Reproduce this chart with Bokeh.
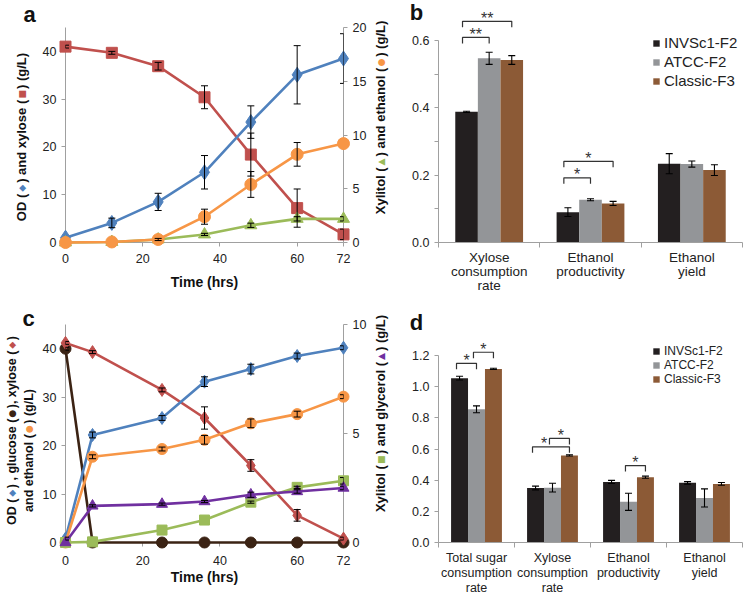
import math
from bokeh.plotting import figure
from bokeh.models import (Range1d, LinearAxis, FixedTicker, ColumnDataSource, Whisker,
                          TeeHead, Legend, LegendItem, NumeralTickFormatter)
from bokeh.layouts import row, column
from bokeh.embed import file_html
from bokeh.resources import INLINE
from bokeh.core.properties import value

# ---------------- data: panel a ----------------
a_time = [0, 12, 24, 36, 48, 60, 72]
a_od = [1.0, 4.1, 8.5, 14.7, 25.2, 35.1, 38.5]
a_od_err = [0.0, 1.0, 1.8, 3.5, 3.4, 6.1, 5.2]
a_xylose = [41.0, 39.7, 36.9, 30.4, 18.4, 7.2, 1.7]
a_xylose_err = [0.3, 0.3, 0.8, 2.4, 4.5, 4.0, 1.1]
a_ethanol = [0.0, 0.05, 0.28, 2.4, 5.4, 8.2, 9.2]
a_ethanol_err = [0.0, 0.0, 0.1, 0.7, 1.2, 1.1, 0.0]
a_xylitol = [0.0, 0.05, 0.28, 0.75, 1.6, 2.2, 2.2]
a_xylitol_err = [0.0, 0.0, 0.0, 0.1, 0.2, 0.2, 0.2]
a_left_ticks = [0, 10, 20, 30, 40]
a_right_ticks = [0, 5, 10, 15, 20]
time_ticks = [0, 20, 40, 60, 72]

# ---------------- data: panel c ----------------
c_time = [0, 7, 25, 36, 48, 60, 72]
c_od = [0.8, 22.2, 25.7, 33.2, 35.8, 38.5, 40.2]
c_od_err = [0.3, 0.6, 0.5, 1.0, 1.0, 0.6, 0.4]
c_glucose = [40.0, 0.0, 0.0, 0.0, 0.0, 0.0, 0.0]
c_glucose_err = [0.3, 0.0, 0.0, 0.0, 0.0, 0.0, 0.0]
c_xylose = [41.2, 39.3, 31.5, 25.7, 15.9, 5.6, 0.8]
c_xylose_err = [0.3, 0.3, 0.4, 2.3, 1.2, 1.2, 0.3]
c_ethanol = [0.0, 17.7, 19.3, 21.2, 24.6, 26.5, 30.1]
c_ethanol_err = [0.0, 0.4, 0.4, 0.9, 0.9, 0.6, 0.4]
c_xylitol = [0.0, 0.03, 0.57, 1.03, 1.85, 2.53, 2.83]
c_xylitol_err = [0.0, 0.0, 0.0, 0.0, 0.05, 0.05, 0.15]
c_glycerol = [0.0, 1.68, 1.76, 1.88, 2.19, 2.34, 2.50]
c_glycerol_err = [0.0, 0.05, 0.05, 0.05, 0.12, 0.08, 0.08]
c_right_ticks = [0, 5, 10]

# ---------------- data: panel b ----------------
strains = ["INVSc1-F2", "ATCC-F2", "Classic-F3"]
b_categories = ["Xylose\nconsumption\nrate", "Ethanol\nproductivity", "Ethanol\nyield"]
b_invsc1 = [0.388, 0.090, 0.234]
b_invsc1_err = [0.002, 0.013, 0.030]
b_atcc = [0.547, 0.127, 0.233]
b_atcc_err = [0.018, 0.003, 0.009]
b_classic = [0.542, 0.116, 0.215]
b_classic_err = [0.013, 0.006, 0.016]
b_ticks = [0.0, 0.2, 0.4, 0.6]
b_minor = [0.1, 0.3, 0.5]
b_sig_cat = [0, 0, 1, 1]
b_sig_from = [0, 0, 0, 0]
b_sig_to = [1, 2, 1, 2]
b_sig_y = [0.609, 0.657, 0.192, 0.241]
b_sig_text = ["**", "**", "*", "*"]

# ---------------- data: panel d ----------------
d_categories = ["Total sugar\nconsumption\nrate", "Xylose\nconsumption\nrate",
                "Ethanol\nproductivity", "Ethanol\nyield"]
d_invsc1 = [1.055, 0.350, 0.389, 0.383]
d_invsc1_err = [0.012, 0.012, 0.010, 0.008]
d_atcc = [0.855, 0.352, 0.261, 0.286]
d_atcc_err = [0.022, 0.028, 0.055, 0.058]
d_classic = [1.114, 0.559, 0.419, 0.376]
d_classic_err = [0.004, 0.004, 0.007, 0.009]
d_ticks = [0.0, 0.2, 0.4, 0.6, 0.8, 1.0, 1.2]
d_sig_cat = [0, 0, 1, 1, 2]
d_sig_from = [0, 1, 0, 1, 1]
d_sig_to = [1, 2, 2, 2, 2]
d_sig_y = [1.150, 1.221, 0.614, 0.668, 0.494]
d_sig_text = ["*", "*", "*", "*", "*"]

# ---------------- style ----------------
BLUE = "#4F81BD"
RED = "#C0504D"
GREEN = "#9BBB59"
ORANGE = "#F79646"
PURPLE = "#7030A0"
GLU = "#3B2314"
BAR_COLORS = ["#231F20", "#939598", "#8C5A36"]
AXIS_GREY = "#A0A0A0"
FONT = "Liberation Sans"
BW = 0.223
# horizontal nudges (category units) of the star marks, in bracket order
B_STAR_DX = [0.0, 0.0, 0.0, 0.0]
D_STAR_DX = [0.0, 0.0, -0.09, 0.02, 0.0]

# Arial/Liberation Sans Bold advance widths (1/1000 em)
AB = {' ': 278, '\u00a0': 278, '(': 333, ')': 333, ',': 278, '/': 278, 'D': 722, 'L': 611,
      'O': 778, 'X': 667, 'a': 556, 'c': 556, 'd': 611, 'e': 556, 'g': 611, 'h': 611,
      'i': 278, 'l': 278, 'n': 611, 'o': 611, 'r': 389, 's': 556, 't': 333, 'u': 611,
      'x': 556, 'y': 556}
GAP = "\u00a0" * 3

# frame geometry in page pixels (canvas origin = page origin)
ga = dict(fx0=65, fx1=343, fy0=27, fy1=242, x0=0, x1=72, y0=0, y1=45)
gb = dict(fx0=438, fx1=742, fy0=27, fy1=242, x0=0, x1=3, y0=0, y1=215 / 336.7)
gc = dict(fx0=65, fx1=343, fy0=324, fy1=542, x0=0, x1=72, y0=0, y1=45)
gd = dict(fx0=438, fx1=742, fy0=324, fy1=542, x0=0, x1=4, y0=0, y1=218 / 155.8)


def page_to_data(g, px, py):
    x = g['x0'] + (px - g['fx0']) * (g['x1'] - g['x0']) / (g['fx1'] - g['fx0'])
    y = g['y0'] + (g['fy1'] - py) * (g['y1'] - g['y0']) / (g['fy1'] - g['fy0'])
    return x, y


def px_per_y(g):
    return (g['fy1'] - g['fy0']) / (g['y1'] - g['y0'])


def text_width(s, size):
    return sum(AB.get(ch, 556) for ch in s) * size / 1000.0


def make_fig(g, ox, oy, width, height):
    p = figure(width=width, height=height, output_backend="svg", toolbar_location=None, tools="",
               x_range=Range1d(g['x0'], g['x1']), y_range=Range1d(g['y0'], g['y1']),
               min_border_left=g['fx0'] - ox, min_border_right=ox + width - g['fx1'],
               min_border_top=g['fy0'] - oy, min_border_bottom=oy + height - g['fy1'])
    p.outline_line_color = None
    p.xgrid.visible = False
    p.ygrid.visible = False
    p.background_fill_color = "white"
    p.border_fill_color = "white"
    return p


def style_axis(ax, size="12.5px"):
    ax.axis_line_color = AXIS_GREY
    ax.major_tick_line_color = AXIS_GREY
    ax.minor_tick_line_color = None
    ax.major_tick_in = 0
    ax.major_tick_out = 4
    ax.major_label_text_font = FONT
    ax.major_label_text_font_size = size
    ax.major_label_text_color = "#222222"


def free_text(p, g, px, py, txt, size, bold=False, color="#111111", angle=0.0,
              font=FONT, align="center"):
    x, y = page_to_data(g, px, py)
    p.text(x=[x], y=[y], text=[txt], angle=angle, text_align=align, text_baseline="middle",
           text_font=value(font), text_font_style="bold" if bold else "normal",
           text_font_size=f"{size}px", text_color=color, level="overlay")


def line_series(p, x, y, err, color, marker, size, rname=None):
    kw = {} if rname is None else {"y_range_name": rname}
    p.line(x, y, line_color=color, line_width=2.6, level="overlay", **kw)
    p.scatter(x, y, marker=marker, size=size, fill_color=color, line_color=color,
              level="overlay", **kw)
    xs = [xi for xi, e in zip(x, err) if e > 0]
    lo = [yi - e for yi, e in zip(y, err) if e > 0]
    hi = [yi + e for yi, e in zip(y, err) if e > 0]
    src = ColumnDataSource(dict(x=xs, lo=lo, hi=hi))
    w = Whisker(source=src, base="x", lower="lo", upper="hi", line_color="black",
                line_width=1, level="overlay",
                upper_head=TeeHead(size=7, line_color="black", line_width=1),
                lower_head=TeeHead(size=7, line_color="black", line_width=1), **kw)
    p.add_layout(w)


def rotated_title(p, g, cx, cy, parts, size=13.0, sym_size=9):
    main = "".join(part if isinstance(part, str) else GAP for part in parts)
    W = text_width(main, size)
    free_text(p, g, cx, cy, main, size, bold=True, angle=math.pi / 2)
    s = 0.0
    gw = text_width(GAP, size)
    for part in parts:
        if isinstance(part, str):
            s += text_width(part, size)
        else:
            py = cy + W / 2 - (s + gw / 2)
            free_text(p, g, cx, py, part[0], sym_size, color=part[1], angle=math.pi / 2,
                      font="DejaVu Sans")
            s += gw


def time_axis(p, standoff, label_standoff):
    ax = p.xaxis[0]
    style_axis(ax)
    ax.ticker = FixedTicker(ticks=time_ticks)
    ax.major_label_standoff = standoff
    ax.axis_label = "Time (hrs)"
    ax.axis_label_text_font = FONT
    ax.axis_label_text_font_style = "bold"
    ax.axis_label_text_font_size = "14px"
    ax.axis_label_text_color = "#111111"
    ax.axis_label_standoff = label_standoff


# ---------------- panel a ----------------
pa = make_fig(ga, 0, 0, 390, 295)
pa.extra_y_ranges = {"r": Range1d(0, 20)}
time_axis(pa, 7, 8)
style_axis(pa.yaxis[0])
pa.yaxis[0].ticker = FixedTicker(ticks=a_left_ticks)
ra = LinearAxis(y_range_name="r", ticker=FixedTicker(ticks=a_right_ticks))
style_axis(ra)
pa.add_layout(ra, "right")

line_series(pa, a_time, a_xylose, a_xylose_err, RED, "square", 11)
line_series(pa, a_time, a_od, a_od_err, BLUE, "diamond", 15)
line_series(pa, a_time, a_xylitol, a_xylitol_err, GREEN, "triangle", 12, "r")
line_series(pa, a_time, a_ethanol, a_ethanol_err, ORANGE, "circle", 12, "r")

free_text(pa, ga, 29, 14, "a", 22, bold=True)
rotated_title(pa, ga, 21, 136.5, ["OD (", ("\u25C6", BLUE), ") and xylose (", ("\u25A0", RED), ") (g/L)"])
rotated_title(pa, ga, 380, 117, ["Xylitol (", ("\u25B2", GREEN), ") and ethanol (", ("\u25CF", ORANGE), ") (g/L)"])

# ---------------- panel c ----------------
pc = make_fig(gc, 0, 295, 390, 300)
pc.extra_y_ranges = {"r": Range1d(0, 10)}
time_axis(pc, 9, 1)
style_axis(pc.yaxis[0])
pc.yaxis[0].ticker = FixedTicker(ticks=a_left_ticks)
rc = LinearAxis(y_range_name="r", ticker=FixedTicker(ticks=c_right_ticks))
style_axis(rc)
pc.add_layout(rc, "right")

line_series(pc, c_time, c_glucose, c_glucose_err, GLU, "circle", 11)
line_series(pc, c_time, c_xylose, c_xylose_err, RED, "diamond", 13)
line_series(pc, c_time, c_od, c_od_err, BLUE, "diamond", 13)
line_series(pc, c_time, c_ethanol, c_ethanol_err, ORANGE, "circle", 11)
line_series(pc, c_time, c_xylitol, c_xylitol_err, GREEN, "square", 10, "r")
line_series(pc, c_time, c_glycerol, c_glycerol_err, PURPLE, "triangle", 11, "r")

free_text(pc, gc, 28, 318, "c", 22, bold=True)
rotated_title(pc, gc, 11, 430, ["OD (", ("\u25C6", BLUE), ") , glucose (", ("\u25CF", GLU),
                                "), xylose (", ("\u25C6", RED), ")"], size=12.5)
rotated_title(pc, gc, 28, 450, ["and ethanol (", ("\u25CF", ORANGE), ") (g/L)"], size=12.5)
rotated_title(pc, gc, 380, 413, ["Xylitol (", ("\u25A0", GREEN), ") and glycerol (", ("\u25B2", PURPLE), ") (g/L)"])


# ---------------- bar panels ----------------
def bar_panel(p, g, cats, series, errs, ticks, minor, sig, star_dx, legend_loc, leg_size, leg_h,
              cat_size, cat_first, cat_pitch):
    ncat = len(cats)
    renderers = []
    for k in range(3):
        xs = [i + 0.5 + (k - 1) * BW for i in range(ncat)]
        r = p.vbar(x=xs, top=series[k], width=BW, bottom=0, fill_color=BAR_COLORS[k],
                   line_color=None)
        renderers.append(r)
        src = ColumnDataSource(dict(x=xs, lo=[v - e for v, e in zip(series[k], errs[k])],
                                    hi=[v + e for v, e in zip(series[k], errs[k])]))
        p.add_layout(Whisker(source=src, base="x", lower="lo", upper="hi", line_color="black",
                             line_width=1.1, level="overlay",
                             upper_head=TeeHead(size=7, line_color="black", line_width=1.1),
                             lower_head=TeeHead(size=7, line_color="black", line_width=1.1)))
    # x axis: boundary ticks only, category names drawn as text below
    ax = p.xaxis[0]
    style_axis(ax)
    ax.ticker = FixedTicker(ticks=[], minor_ticks=list(range(ncat + 1)))
    ax.minor_tick_out = 5
    ax.minor_tick_in = 0
    ax.minor_tick_line_color = AXIS_GREY
    cx, cy, ct = [], [], []
    for i, c in enumerate(cats):
        for j, line in enumerate(c.split("\n")):
            _, yy = page_to_data(g, 0, cat_first + j * cat_pitch)
            cx.append(i + 0.5)
            cy.append(yy)
            ct.append(line)
    p.text(cx, cy, text=ct, text_font=value(FONT), text_font_size=f"{cat_size}px",
           text_align="center", text_baseline="middle", text_color="#222222", level="overlay")
    # y axis
    ay = p.yaxis[0]
    style_axis(ay)
    ay.ticker = FixedTicker(ticks=ticks, minor_ticks=minor)
    ay.formatter = NumeralTickFormatter(format="0.0")
    ay.bounds = (ticks[0], ticks[-1])
    ay.minor_tick_line_color = AXIS_GREY
    ay.minor_tick_in = 0
    ay.minor_tick_out = 4
    # significance brackets
    cat_, frm, to, ys, txt = sig
    tick = 6.0 / px_per_y(g)
    bx, by, tx, ty = [], [], [], []
    for c, f, t, y, dx in zip(cat_, frm, to, ys, star_dx):
        l = c + 0.5 + (f - 1) * BW - 0.04
        r_ = c + 0.5 + (t - 1) * BW
        bx.append([l, l, r_, r_])
        by.append([y - tick, y, y, y - tick])
        tx.append((l + r_) / 2 + dx)
        ty.append(y)
    p.multi_line(bx, by, line_color="#333333", line_width=1.2, level="overlay")
    p.text(tx, ty, text=txt, text_font=value(FONT), text_font_size="16px", text_align="center",
           text_baseline="middle", y_offset=-3, text_color="#333333", level="overlay")
    # legend
    items = [LegendItem(label=s, renderers=[r]) for s, r in zip(strains, renderers)]
    lg = Legend(items=items, location=legend_loc, orientation="vertical", glyph_width=8,
                glyph_height=8, label_standoff=4, label_text_font=FONT,
                label_text_font_size=f"{leg_size}px", label_text_color="#222222",
                label_height=leg_h, spacing=0, padding=2, margin=0, border_line_color=None,
                background_fill_alpha=0)
    p.add_layout(lg)


pb = make_fig(gb, 390, 0, 360, 295)
bar_panel(pb, gb, b_categories, [b_invsc1, b_atcc, b_classic],
          [b_invsc1_err, b_atcc_err, b_classic_err], b_ticks, b_minor,
          (b_sig_cat, b_sig_from, b_sig_to, b_sig_y, b_sig_text), B_STAR_DX, (214, 152), 15, 19,
          13.5, 257, 14)
free_text(pb, gb, 416, 12, "b", 22, bold=True)

pd = make_fig(gd, 390, 295, 360, 300)
bar_panel(pd, gd, d_categories, [d_invsc1, d_atcc, d_classic],
          [d_invsc1_err, d_atcc_err, d_classic_err], d_ticks, [],
          (d_sig_cat, d_sig_from, d_sig_to, d_sig_y, d_sig_text), D_STAR_DX, (214, 156), 12, 13,
          12.5, 557, 15)
free_text(pd, gd, 416, 322, "d", 22, bold=True)

layout = column(row(pa, pb), row(pc, pd))
open("out.html", "w").write(file_html(layout, INLINE))
